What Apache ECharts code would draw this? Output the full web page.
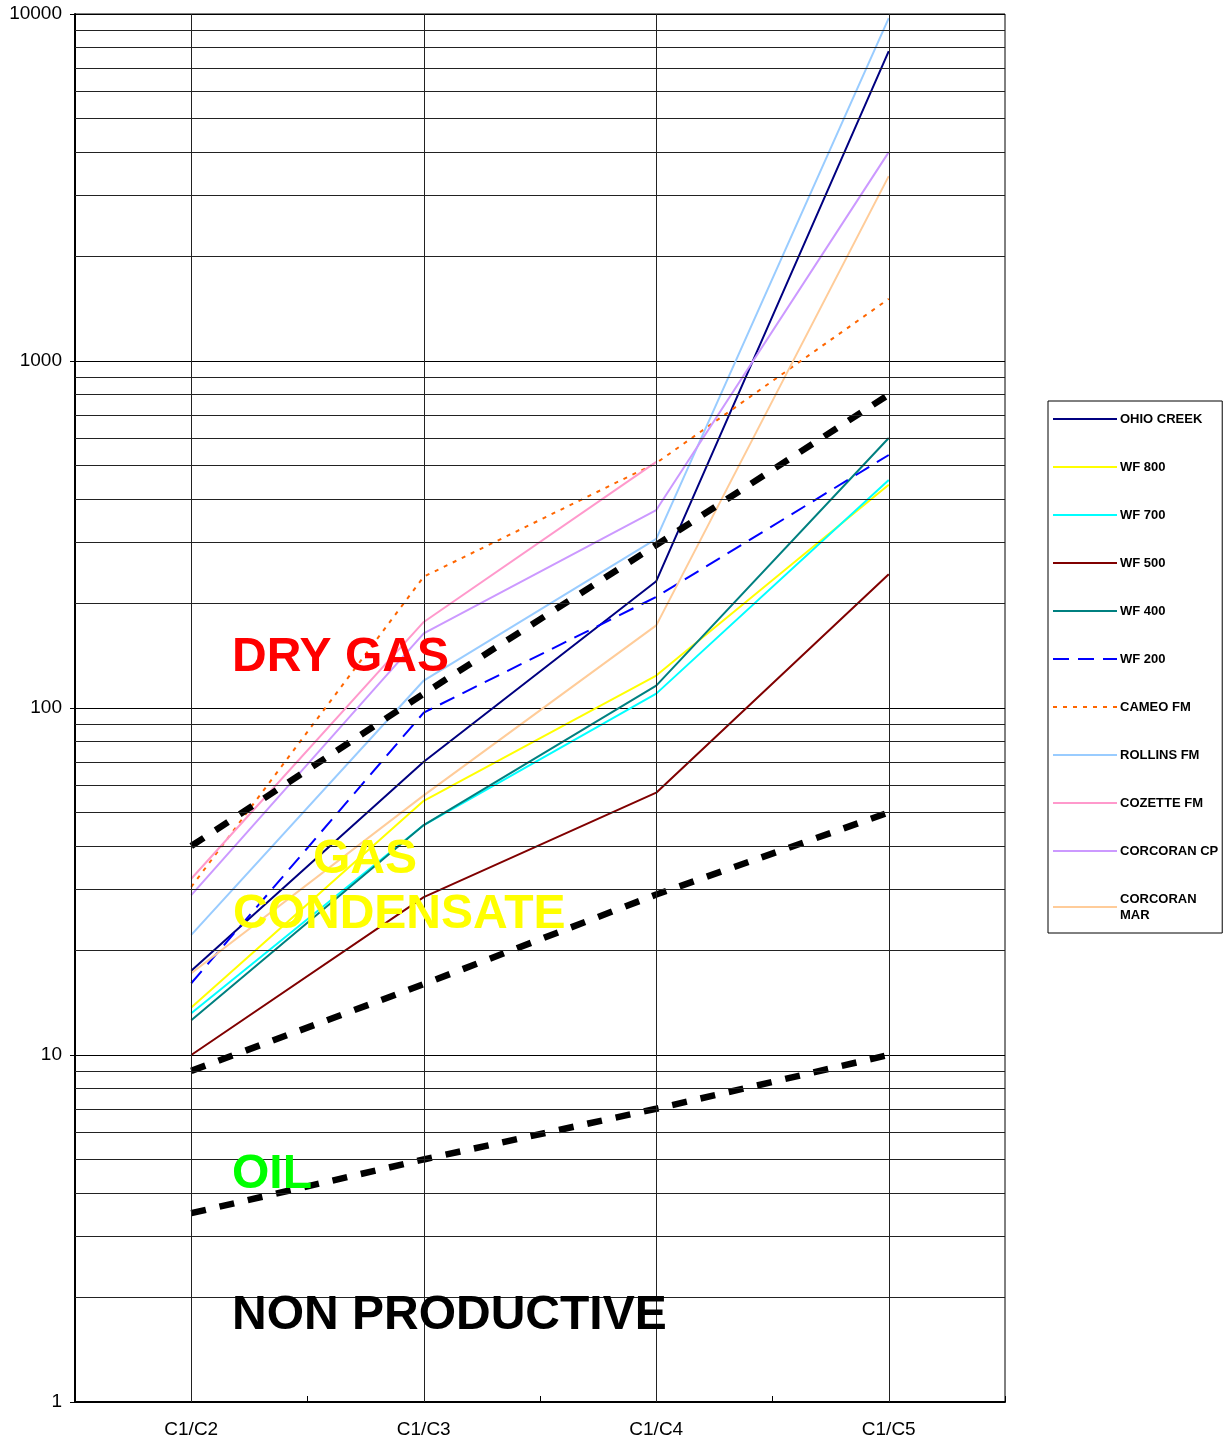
<!DOCTYPE html>
<html>
<head>
<meta charset="utf-8">
<script src="https://cdn.jsdelivr.net/npm/echarts@6/dist/echarts.min.js"></script>
<style>
html, body { margin: 0; padding: 0; background: #fff; }
#chart { width: 1229px; height: 1442px; }
</style>
</head>
<body>
<div id="chart"></div>
<script>
// categories and values
var categories = ['C1/C2', 'C1/C3', 'C1/C4', 'C1/C5'];

var ohioCreek   = [17.5, 70, 232, 7820];
var wf800       = [13.7, 54, 124, 440];
var wf700       = [13.2, 46, 110, 454];
var wf500       = [10.0, 28.5, 57, 243];
var wf400       = [12.6, 46, 116, 600];
var wf200       = [16.1, 97, 209, 536];
var cameoFm     = [30.5, 239, 508, 1510];
var rollinsFm   = [22.2, 120, 307, 9730];
var cozetteFm   = [32.2, 177, 512, null];
var corcoranCp  = [28.9, 164, 372, 4000];
var corcoranMar = [17.2, 56, 173, 3410];

// zone boundaries (thick black dashes)
var dryGasLimit     = [40, 110, 295, 800];
var condensateLimit = [9, 16, 29, 50];
var oilLimit        = [3.5, 5, 7, 10];

// minor horizontal grid lines of the log axis
var minorGrid = [2, 3, 4, 5, 6, 7, 8, 9,
                 20, 30, 40, 50, 60, 70, 80, 90,
                 200, 300, 400, 500, 600, 700, 800, 900,
                 2000, 3000, 4000, 5000, 6000, 7000, 8000, 9000];

var legendNames = ['OHIO CREEK', 'WF 800', 'WF 700', 'WF 500', 'WF 400', 'WF 200',
                   'CAMEO FM', 'ROLLINS FM', 'COZETTE FM', 'CORCORAN CP', 'CORCORAN MAR'];

var chart = echarts.init(document.getElementById('chart'));

function lineSeries(name, data, color, type, width) {
	return {
		name: name,
		type: 'line',
		data: data,
		symbol: 'none',
		z: 3,
		connectNulls: false,
		lineStyle: { color: color, width: width || 2, type: type || 'solid' },
		itemStyle: { color: color }
	};
}

function limitSeries(name, data) {
	return {
		name: name,
		type: 'line',
		data: data,
		symbol: 'none',
		z: 4,
		lineStyle: { color: '#000', width: 6.5, type: [15, 14] },
		itemStyle: { color: '#000' }
	};
}

var gridLines = [];
for (var i = 0; i < minorGrid.length; i++) {
	gridLines.push({ yAxis: minorGrid[i] });
}
for (var j = 0; j < categories.length; j++) {
	gridLines.push({ xAxis: categories[j] });
}

var labelFont = 'Liberation Sans, Arial, sans-serif';

var option = {
	animation: false,
	backgroundColor: '#fff',
	grid: {
		left: 75, right: 224, top: 14, bottom: 40,
		show: true, borderColor: '#000', borderWidth: 1, backgroundColor: 'transparent'
	},
	legend: {
		data: legendNames,
		orient: 'vertical',
		left: 1048,
		top: 401,
		padding: [10, 4, 10, 4],
		itemWidth: 64,
		itemHeight: 14,
		itemGap: 32,
		borderColor: '#000',
		borderWidth: 1,
		backgroundColor: '#fff',
		itemStyle: { opacity: 0 },
		textStyle: { fontFamily: labelFont, fontWeight: 'bold', fontSize: 13, color: '#000', lineHeight: 16,
		             padding: [0, 0, 0, -2] },
		formatter: function (name) {
			return name === 'CORCORAN MAR' ? 'CORCORAN\nMAR' : name;
		}
	},
	xAxis: {
		type: 'category',
		data: categories,
		boundaryGap: true,
		axisLine: { show: true, lineStyle: { color: '#000', width: 2 } },
		axisTick: { show: true, inside: true, length: 6, alignWithLabel: false, lineStyle: { color: '#000' } },
		axisLabel: { fontFamily: labelFont, fontSize: 19, color: '#000', margin: 18 },
		splitLine: { show: false }
	},
	yAxis: {
		type: 'log',
		logBase: 10,
		min: 1,
		max: 10000,
		axisLine: { show: true, lineStyle: { color: '#000', width: 2 } },
		axisTick: { show: true, inside: false, length: 5, lineStyle: { color: '#000' } },
		axisLabel: {
			fontFamily: labelFont, fontSize: 19, color: '#000', margin: 13,
			formatter: function (v) { return String(Math.round(v)); }
		},
		splitLine: { show: true, lineStyle: { color: '#000', width: 1 } },
		minorTick: { show: false },
		minorSplitLine: { show: false }
	},
	series: [
		{
			name: 'grid',
			type: 'line',
			data: [],
			z: 1,
			silent: true,
			markLine: {
				silent: true,
				symbol: 'none',
				animation: false,
				label: { show: false },
				lineStyle: { color: '#222', width: 1, type: 'solid' },
				emphasis: { disabled: true },
				data: gridLines
			}
		},
		lineSeries('OHIO CREEK', ohioCreek, '#000080'),
		lineSeries('WF 800', wf800, '#FFFF00'),
		lineSeries('WF 700', wf700, '#00FFFF'),
		lineSeries('WF 500', wf500, '#800000'),
		lineSeries('WF 400', wf400, '#008080'),
		lineSeries('WF 200', wf200, '#0000FF', [16, 9], 2),
		lineSeries('CAMEO FM', cameoFm, '#FF6600', [4, 6], 2),
		lineSeries('ROLLINS FM', rollinsFm, '#99CCFF'),
		lineSeries('COZETTE FM', cozetteFm, '#FF99CC'),
		lineSeries('CORCORAN CP', corcoranCp, '#CC99FF'),
		lineSeries('CORCORAN MAR', corcoranMar, '#FFCC99'),
		limitSeries('dry gas limit', dryGasLimit),
		limitSeries('condensate limit', condensateLimit),
		limitSeries('oil limit', oilLimit)
	],
	graphic: [
		{ type: 'text', left: 232, top: 634, z: 100,
		  style: { text: 'DRY GAS', fill: '#FF0000', font: 'bold 48px ' + labelFont } },
		{ type: 'text', left: 313, top: 836, z: 100,
		  style: { text: 'GAS', fill: '#FFFF00', font: 'bold 48px ' + labelFont } },
		{ type: 'text', left: 233, top: 891, z: 100,
		  style: { text: 'CONDENSATE', fill: '#FFFF00', font: 'bold 48px ' + labelFont } },
		{ type: 'text', left: 232, top: 1151, z: 100,
		  style: { text: 'OIL', fill: '#00FF00', font: 'bold 48px ' + labelFont } },
		{ type: 'text', left: 232, top: 1292, z: 100,
		  style: { text: 'NON PRODUCTIVE', fill: '#000', font: 'bold 48px ' + labelFont } }
	]
};

chart.setOption(option);
</script>
</body>
</html>
